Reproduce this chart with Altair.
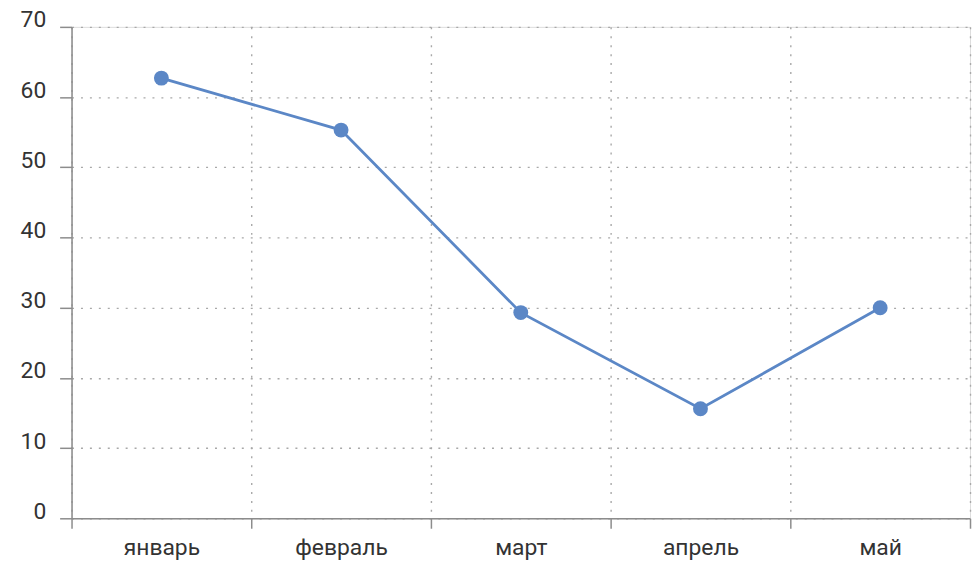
import altair as alt
import pandas as pd

months = ["январь", "февраль", "март", "апрель", "май"]
values = [62.7, 55.3, 29.3, 15.6, 30.0]

df = pd.DataFrame({"month": months, "value": values})

FONT = "Roboto"
LINE = "#5b87c6"

x = alt.X(
    "month:N",
    sort=months,
    scale=alt.Scale(type="band", paddingInner=0, paddingOuter=0),
    axis=alt.Axis(
        title=None,
        labelAngle=0,
        tickBand="extent",
        grid=True,
        gridDash=[2, 7],
        gridColor="#a8a8a8",
        gridWidth=1.4,
        domainColor="#8c8c8c",
        domainWidth=1.5,
        tickColor="#8c8c8c",
        tickWidth=1.5,
        tickSize=10,
        labelFont=FONT,
        labelFontSize=23,
        labelColor="#333333",
        labelPadding=8,
    ),
)
y = alt.Y(
    "value:Q",
    scale=alt.Scale(domain=[0, 70], nice=False),
    axis=alt.Axis(
        title=None,
        values=[0, 10, 20, 30, 40, 50, 60, 70],
        grid=True,
        gridDash=[2, 7],
        gridColor="#a8a8a8",
        gridWidth=1.4,
        domainColor="#8c8c8c",
        domainWidth=1.5,
        tickColor="#8c8c8c",
        tickWidth=1.5,
        tickSize=12,
        labelFont=FONT,
        labelFontSize=23,
        labelColor="#333333",
        labelPadding=14,
        labelBaseline="alphabetic",
    ),
)

base = alt.Chart(df)
line = base.mark_line(color=LINE, strokeWidth=2.8).encode(x=x, y=y)
pts = base.mark_point(filled=True, color=LINE, opacity=1, size=225).encode(x=x, y=y)

chart = (
    alt.layer(line, pts)
    .properties(
        width=905,
        height=495,
        autosize=alt.AutoSizeParams(type="none"),
        padding={"left": 64, "top": 17, "right": 2, "bottom": 42},
    )
    .configure_view(stroke=None)
    .configure(background="white")
)

chart.save("out.html", embed_options={"renderer": "svg", "actions": False})
